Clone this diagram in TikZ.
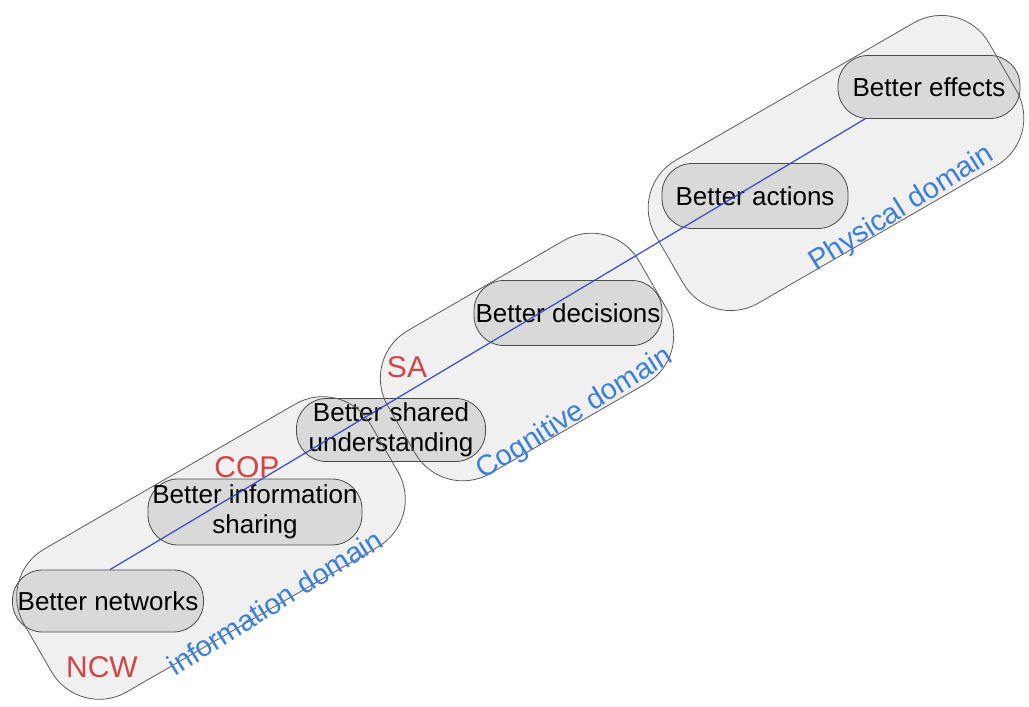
\documentclass[tikz,border=0pt]{standalone}
\usepackage{fontspec}
\setmainfont{Liberation Sans}
\definecolor{domfill}{HTML}{F0F0F0}
\definecolor{domline}{HTML}{5A5A5A}
\definecolor{boxfill}{HTML}{D9D9D9}
\definecolor{boxline}{HTML}{4A4A4A}
\definecolor{redlab}{HTML}{D04545}
\definecolor{bluelab}{HTML}{3C7FD8}
\definecolor{connblue}{HTML}{3344BB}
\begin{document}
\begin{tikzpicture}[x=1pt,y=-1pt,
  domshape/.style={rotate=30, minimum height=165pt, rounded corners=55pt, inner sep=0pt},
  domfillst/.style={domshape, fill=domfill},
  domdraw/.style={domshape, draw=domline, line width=0.8pt},
  box/.style={draw=boxline, fill=boxfill, line width=0.8pt, rounded corners=30pt, align=center, inner sep=0pt, font=\fontsize{26}{30}\selectfont},
  redl/.style={text=redlab, font=\fontsize{30}{34}\selectfont, inner sep=0pt},
  bluel/.style={text=bluelab, font=\fontsize{29}{33}\selectfont, inner sep=0pt, rotate=32},
  conn/.style={draw=connblue, line width=1.3pt, draw opacity=0.9}]
\useasboundingbox (0,0) rectangle (1029,707);
% domain fills
\node[domfillst, minimum width=400pt] (domI) at (211,548) {};
\node[domfillst, minimum width=290pt] (domC) at (527,357) {};
\node[domfillst, minimum width=385pt] (domP) at (836,163) {};
% inner nodes
\node[box, minimum width=191pt, minimum height=62pt] (net) at (108,601) {Better networks};
\node[box, minimum width=214pt, minimum height=66pt] (share) at (255,512) {Better information\\sharing};
\node[box, minimum width=189pt, minimum height=63pt] (shared) at (391,430) {Better shared\\understanding};
\node[box, minimum width=188pt, minimum height=65pt] (dec) at (568,313) {Better decisions};
\node[box, minimum width=186pt, minimum height=65pt] (act) at (755,196) {Better actions};
\node[box, minimum width=182pt, minimum height=63pt] (eff) at (929,87) {Better effects};
% domain outlines
\node[domdraw, minimum width=400pt] (domIo) at (211,548) {};
\node[domdraw, minimum width=290pt] (domCo) at (527,357) {};
\node[domdraw, minimum width=385pt] (domPo) at (836,163) {};
% connector
\draw[conn] ([xshift=2pt]net.north) -- ([xshift=-64pt]eff.south);
% labels
\node[redl] (ncw) at (102,667) {NCW};
\node[redl] (cop) at (247,467) {COP};
\node[redl] (sa) at (407,367) {SA};
\node[bluel] (infol) at (275,602) {information domain};
\node[bluel] (cogl) at (575,414) {Cognitive domain};
\node[bluel] (physl) at (902,209) {Physical domain};
\end{tikzpicture}
\end{document}
